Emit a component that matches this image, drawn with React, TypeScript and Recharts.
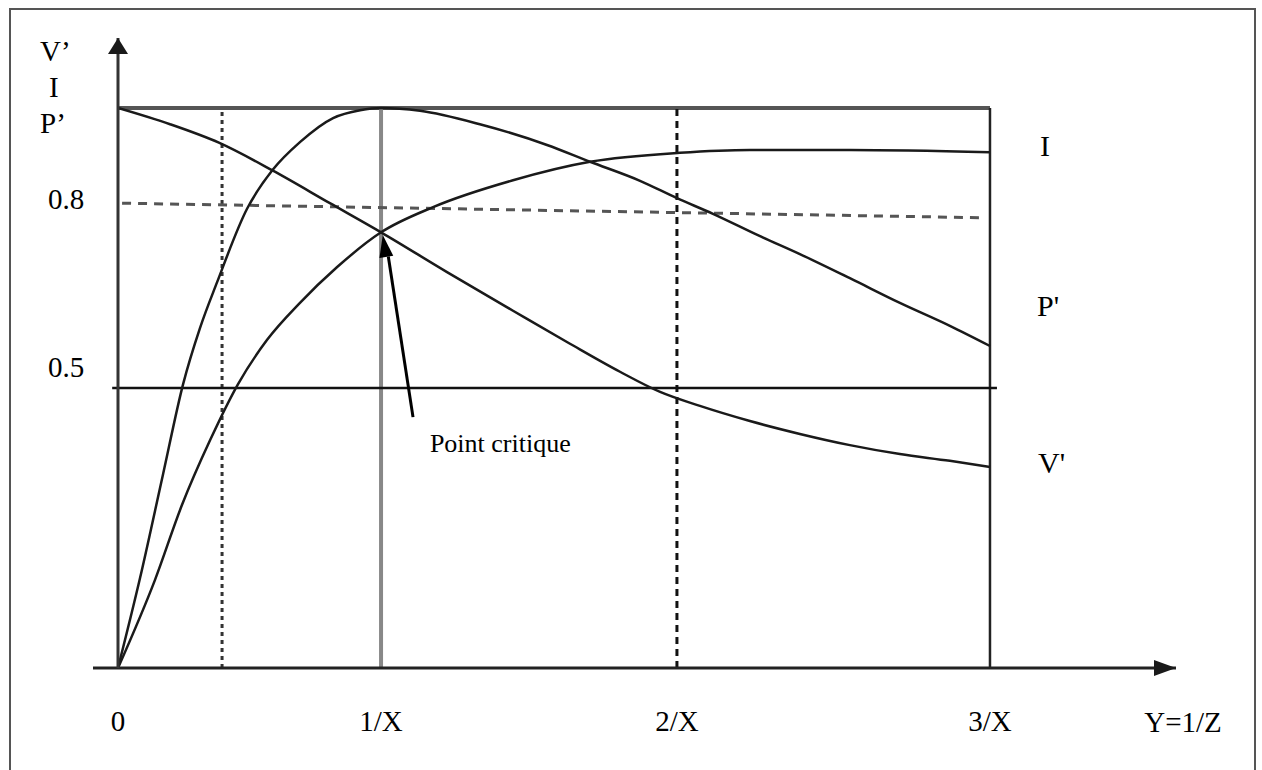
import React from "react";
import { LineChart, Line, XAxis, YAxis, ReferenceLine, ReferenceDot, LabelList } from "recharts";

// x in units of 1/X (as drawn), y relative to the top line (=1)
const V_X = [0, 0.179, 0.347, 0.533, 0.729, 0.905, 1.132, 1.359, 1.555, 1.727, 1.865, 2.002, 2.174, 2.346, 2.518, 2.69, 2.862, 3.0];
const V_Y = [1.0, 0.971, 0.938, 0.888, 0.83, 0.778, 0.707, 0.638, 0.579, 0.529, 0.493, 0.468, 0.441, 0.418, 0.398, 0.382, 0.37, 0.359];

const I_X = [0, 0.127, 0.22, 0.317, 0.413, 0.513, 0.626, 0.754, 0.905, 1.084, 1.359, 1.624, 1.933, 2.174, 2.518, 3.0];
const I_Y = [0, 0.157, 0.291, 0.407, 0.507, 0.586, 0.652, 0.716, 0.778, 0.823, 0.871, 0.904, 0.92, 0.925, 0.925, 0.921];

const P_X = [0, 0.076, 0.155, 0.224, 0.282, 0.341, 0.444, 0.533, 0.626, 0.74, 0.833, 0.905, 1.039, 1.245, 1.476, 1.624, 1.796, 1.923, 2.047, 2.209, 2.346, 2.518, 2.69, 2.862, 3.0];
const P_Y = [0, 0.161, 0.346, 0.507, 0.607, 0.689, 0.82, 0.89, 0.939, 0.982, 0.996, 1.0, 0.995, 0.971, 0.934, 0.904, 0.87, 0.839, 0.811, 0.771, 0.739, 0.696, 0.652, 0.611, 0.575];

const X_TICKS = [0, 0.905, 1.923, 3.0];
const X_TICK_LABELS = ["0", "1/X", "2/X", "3/X"];
const Y_TICKS = [0.5, 0.8];
const Y_TICK_LABELS = ["0.5", "0.8"];

const X_DOTTED = 0.358;
const DASH_08 = [0.83, 0.804]; // the dashed "0.8" line is slightly tilted
const ARROW_TAIL = { x: 1.015, y: 0.448 };
const ARROW_TIP = { x: 0.911, y: 0.773 };
const NOTE_POS = { x: 1.073, y: 0.386 };

const FONT = '"Liberation Serif", "Times New Roman", serif';
const INK = "#1a1a1a";

const toRows = (xs: number[], ys: number[]) => xs.map((x, i) => ({ x, y: ys[i] }));
const vData = toRows(V_X, V_Y);
const iData = toRows(I_X, I_Y);
const pData = toRows(P_X, P_Y);

const endLabel = (text: string, n: number, dx: number, dy: number) => (props: any) => {
  if (props.index !== n - 1) return null;
  return (
    <text x={props.x + dx} y={props.y + dy} fontSize={30} fontFamily={FONT} fill="#000">
      {text}
    </text>
  );
};

const XTick = (props: any) => (
  <text x={props.x} y={props.y + 63} textAnchor="middle" fontSize={29} fontFamily={FONT} fill="#000">
    {X_TICK_LABELS[X_TICKS.indexOf(props.payload.value)]}
  </text>
);

const YTick = (props: any) => (
  <text x={props.x - 52} y={props.y - 11} textAnchor="middle" fontSize={29} fontFamily={FONT} fill="#000">
    {Y_TICK_LABELS[Y_TICKS.indexOf(props.payload.value)]}
  </text>
);

// arrowhead pointing up at the top of the y axis
const UpArrow = (p: any) => (
  <polygon points={`${p.cx},${p.cy} ${p.cx - 10},${p.cy + 16} ${p.cx + 10},${p.cy + 16}`} fill={INK} />
);
const RightArrow = (p: any) => (
  <polygon points={`${p.cx},${p.cy} ${p.cx - 22},${p.cy - 8} ${p.cx - 22},${p.cy + 8}`} fill={INK} />
);
// arrowhead of the "Point critique" pointer, oriented along the pointer line
const PointerHead = (p: any) => {
  const ux = 0.162, uy = 0.987;
  const bx = p.cx + 22 * ux, by = p.cy + 22 * uy;
  const nx = 0.987, ny = -0.162;
  return (
    <polygon
      points={`${p.cx},${p.cy} ${bx + 7 * nx},${by + 7 * ny} ${bx - 7 * nx},${by - 7 * ny}`}
      fill="#000"
    />
  );
};

export default function App() {
  return (
    <div style={{ position: "fixed", left: 0, top: 0, width: 1262, height: 770, background: "#fff" }}>
      <div
        style={{
          position: "absolute",
          left: 9,
          top: 8,
          width: 1247,
          height: 764,
          border: "2px solid #555",
          boxSizing: "border-box",
        }}
      />
      <LineChart
        width={1262}
        height={770}
        margin={{ top: 38, right: 86, bottom: 42, left: 58 }}
        style={{ position: "absolute", left: 0, top: 0 }}
      >
        <XAxis
          dataKey="x"
          type="number"
          domain={[0, 3.64]}
          ticks={X_TICKS}
          tick={<XTick />}
          tickLine={false}
          tickSize={0}
          tickMargin={0}
          height={60}
          axisLine={{ stroke: "#222", strokeWidth: 3 }}
          allowDataOverflow
          label={{
            content: ({ viewBox }: any) => (
              <text
                x={viewBox.x + viewBox.width + 7}
                y={viewBox.y + 64}
                textAnchor="middle"
                fontSize={29}
                fontFamily={FONT}
                fill="#000"
              >
                Y=1/Z
              </text>
            ),
          }}
        />
        <YAxis
          type="number"
          domain={[0, 1.125]}
          ticks={Y_TICKS}
          tick={<YTick />}
          tickLine={false}
          tickSize={0}
          tickMargin={0}
          width={60}
          axisLine={{ stroke: "#333", strokeWidth: 3 }}
          allowDataOverflow
          label={{
            content: ({ viewBox }: any) => (
              <g fontSize={29} fontFamily={FONT} fill="#000">
                <text x={viewBox.x - 18} y={viewBox.y + 23}>V’</text>
                <text x={viewBox.x - 9} y={viewBox.y + 59}>I</text>
                <text x={viewBox.x - 18} y={viewBox.y + 95}>P’</text>
              </g>
            ),
          }}
        />

        {/* frame and guide lines */}
        <ReferenceLine segment={[{ x: 0, y: 1 }, { x: 3, y: 1 }]} stroke="#555" strokeWidth={4} />
        <ReferenceLine segment={[{ x: 3, y: 0 }, { x: 3, y: 1 }]} stroke="#222" strokeWidth={2.5} />
        <ReferenceLine segment={[{ x: X_TICKS[1], y: 0 }, { x: X_TICKS[1], y: 1 }]} stroke="#888" strokeWidth={4} />
        <ReferenceLine
          segment={[{ x: X_TICKS[2], y: 0 }, { x: X_TICKS[2], y: 1 }]}
          stroke="#111"
          strokeWidth={3}
          strokeDasharray="7 5"
        />
        <ReferenceLine
          segment={[{ x: X_DOTTED, y: 0 }, { x: X_DOTTED, y: 1 }]}
          stroke="#333"
          strokeWidth={3}
          strokeDasharray="4 4"
        />
        <ReferenceLine
          segment={[{ x: 0.014, y: DASH_08[0] }, { x: 2.98, y: DASH_08[1] }]}
          stroke="#555"
          strokeWidth={3}
          strokeDasharray="9 7"
        />
        <ReferenceLine
          segment={[{ x: -0.02, y: 0.5 }, { x: 3.024, y: 0.5 }]}
          stroke="#111"
          strokeWidth={2.5}
          ifOverflow="visible"
        />
        <ReferenceLine
          segment={[{ x: -0.086, y: 0 }, { x: 0, y: 0 }]}
          stroke="#222"
          strokeWidth={3}
          ifOverflow="visible"
        />

        {/* axis arrowheads */}
        <ReferenceDot x={0} y={1.125} shape={<UpArrow />} ifOverflow="visible" />
        <ReferenceDot x={3.64} y={0} shape={<RightArrow />} ifOverflow="visible" />

        {/* pointer to the critical point */}
        <ReferenceLine
          segment={[ARROW_TAIL, { x: 0.93, y: 0.735 }]}
          stroke="#000"
          strokeWidth={3}
        />
        <ReferenceDot x={ARROW_TIP.x} y={ARROW_TIP.y} shape={<PointerHead />} />
        <ReferenceDot
          x={NOTE_POS.x}
          y={NOTE_POS.y}
          r={0}
          shape={() => <g />}
          label={{
            content: ({ viewBox }: any) => (
              <text x={viewBox.x} y={viewBox.y} fontSize={26} fontFamily={FONT} fill="#000">
                Point critique
              </text>
            ),
          }}
        />

        <Line data={iData} dataKey="y" type="monotone" dot={false} stroke={INK} strokeWidth={2.5} isAnimationActive={false}>
          <LabelList dataKey="y" content={endLabel("I", iData.length, 50, 4)} />
        </Line>
        <Line data={pData} dataKey="y" type="monotone" dot={false} stroke={INK} strokeWidth={2.5} isAnimationActive={false}>
          <LabelList dataKey="y" content={endLabel("P'", pData.length, 47, -30)} />
        </Line>
        <Line data={vData} dataKey="y" type="monotone" dot={false} stroke={INK} strokeWidth={2.5} isAnimationActive={false}>
          <LabelList dataKey="y" content={endLabel("V'", vData.length, 48, 6)} />
        </Line>
      </LineChart>
    </div>
  );
}
